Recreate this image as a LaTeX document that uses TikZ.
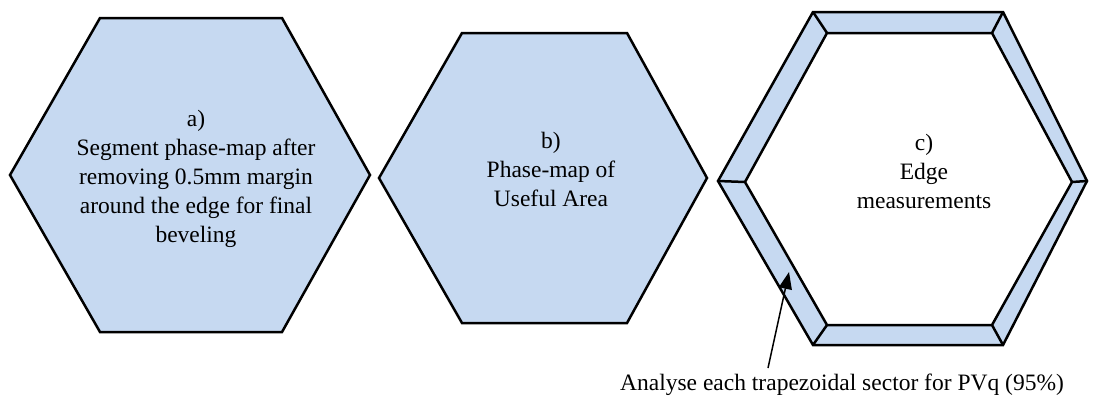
\documentclass[tikz,border=0pt]{standalone}
\usepackage{fontspec}
\setmainfont{Liberation Serif}
\usetikzlibrary{arrows.meta, calc}

\definecolor{hexblue}{RGB}{198,217,241}

\tikzset{
  hexface/.style={draw=black, fill=hexblue, line width=2.5pt, line join=miter},
  hexhole/.style={draw=black, fill=white, line width=2.5pt, line join=miter},
  hextext/.style={align=center, font=\fontsize{23.5}{29}\selectfont},
}

\begin{document}
\begin{tikzpicture}[x=1pt, y=-1pt, >={Triangle[length=17pt, width=13pt]}]
        \useasboundingbox (0,0) rectangle (1095,400);

        % Hexagons a) and b)
        \draw[hexface] (10,175) -- (100,18) -- (282,18) -- (370,175) -- (282,332) -- (100,332) -- cycle;
        \draw[hexface] (379,178) -- (462,33) -- (627,33) -- (707,178) -- (627,323) -- (462,323) -- cycle;

        % Hexagon c) with its border sectors
        \coordinate (o1) at (718,181);
        \coordinate (o2) at (813,12);
        \coordinate (o3) at (1003,12);
        \coordinate (o4) at (1087,181);
        \coordinate (o5) at (1003,345);
        \coordinate (o6) at (813,345);
        \coordinate (n1) at (745,182);
        \coordinate (n2) at (827,33);
        \coordinate (n3) at (992,33);
        \coordinate (n4) at (1072,182);
        \coordinate (n5) at (992,325);
        \coordinate (n6) at (827,325);
        \draw[hexface] (o1) -- (o2) -- (o3) -- (o4) -- (o5) -- (o6) -- cycle;
        \draw[hexhole] (n1) -- (n2) -- (n3) -- (n4) -- (n5) -- (n6) -- cycle;
        \foreach \i in {1,...,6}
          \draw[line width=2.5pt] (o\i) -- (n\i);

        % Nodes
        \node[hextext] (txtA) at (196,179) {a)\\Segment phase-map after\\removing 0.5mm margin\\around the edge for final\\beveling};
        \node[hextext] (txtB) at (551,169) {b)\\Phase-map of\\Useful Area};
        \node[hextext] (txtC) at (924,171) {c)\\Edge\\measurements};
        \node[hextext] (note) at (842,385) {Analyse each trapezoidal sector for PVq (95\%)};
        \coordinate (sector) at (789,272);

        % Edges
        \draw[->, line width=1.5pt] (768,368) -- (sector);
\end{tikzpicture}
\end{document}
